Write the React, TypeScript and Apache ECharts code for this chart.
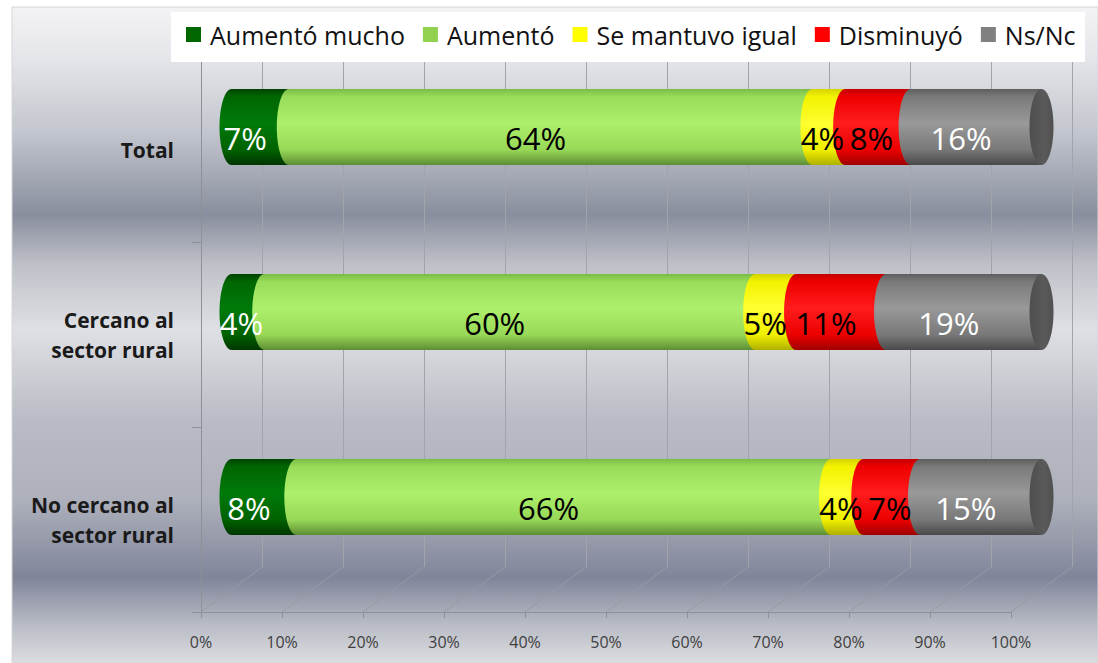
import React, { useEffect, useRef } from "react";
import * as echarts from "echarts";

const categories = ["Total", "Cercano al\nsector rural", "No cercano al\nsector rural"];
const seriesNames = ["Aumentó mucho", "Aumentó", "Se mantuvo igual", "Disminuyó", "Ns/Nc"];
const aumentoMucho = [7, 4, 8];
const aumento = [64, 60, 66];
const seMantuvoIgual = [4, 5, 4];
const disminuyo = [8, 11, 7];
const nsNc = [16, 19, 15];
const xTicks = [0, 10, 20, 30, 40, 50, 60, 70, 80, 90, 100];

const seriesValues = [aumentoMucho, aumento, seMantuvoIgual, disminuyo, nsNc];
const legendColors = ["#006600", "#92d050", "#ffff00", "#ff0000", "#808080"];
const labelColors = ["#ffffff", "#000000", "#000000", "#000000", "#ffffff"];
const bodyStops: [number, string][][] = [
  [[0, "#004400"], [0.1, "#006600"], [0.45, "#007a0a"], [0.8, "#006200"], [1, "#003600"]],
  [[0, "#7cbc46"], [0.1, "#98dc5a"], [0.45, "#adf06b"], [0.8, "#98d858"], [1, "#5e8e34"]],
  [[0, "#d4d400"], [0.1, "#f2f200"], [0.45, "#ffff30"], [0.8, "#f0f000"], [1, "#b0b000"]],
  [[0, "#c40000"], [0.1, "#ee0000"], [0.45, "#ff1c1c"], [0.8, "#ec0000"], [1, "#a00000"]],
  [[0, "#5e5e5e"], [0.1, "#7a7a7a"], [0.45, "#999999"], [0.8, "#787878"], [1, "#4a4a4a"]],
];

const FONT = '"Open Sans", "DejaVu Sans", sans-serif';
const LABEL_SIZE = 31;
const DEPTH_X = 61;
const DEPTH_Y = 45;

function grad(stops: [number, string][]) {
  return new echarts.graphic.LinearGradient(
    0, 0, 0, 1,
    stops.map(([offset, color]) => ({ offset, color }))
  );
}

function labelWidth(v: number) {
  return (String(v).length * 0.572 + 0.815) * LABEL_SIZE;
}

export default function App() {
  const ref = useRef<HTMLDivElement>(null);

  useEffect(() => {
    document.body.style.margin = "0";
    if (!ref.current) return;
    const chart = echarts.init(ref.current, null, { renderer: "svg" });

    // totals per category (100% stacked)
    const totals = categories.map((_, c) =>
      seriesValues.reduce((s, arr) => s + arr[c], 0)
    );
    const segData = seriesValues.map((arr, k) =>
      arr.map((v, c) => {
        let before = 0;
        for (let j = 0; j < k; j++) before += seriesValues[j][c];
        const start = (before / totals[c]) * 100;
        const end = ((before + v) / totals[c]) * 100;
        return [start, end, c, v];
      })
    );
    // labels ordered by category, then by series (left to right)
    const labelData: number[][] = [];
    categories.forEach((_, c) =>
      segData.forEach((arr, k) => {
        const d = arr[c];
        labelData.push([(d[0] + d[1]) / 2, c, d[3], k, d[0]]);
      })
    );
    let lastRight: Record<number, number> = {};

    const barSeries = seriesNames.map((name, k) => ({
      name,
      type: "custom",
      xAxisIndex: 1,
      yAxisIndex: 1,
      itemStyle: { color: legendColors[k] },
      encode: { x: [0, 1], y: 2 },
      data: segData[k],
      z: 3,
      renderItem: (params: any, api: any) => {
        const s = api.value(0);
        const e = api.value(1);
        const c = api.value(2);
        const p0 = api.coord([s, c]);
        const p1 = api.coord([e, c]);
        const band = api.size([0, 1])[1];
        const h = band * 0.41;
        const rx = 12;
        const y = p0[1] - h / 2;
        const children: any[] = [
          {
            type: "rect",
            shape: { x: p0[0], y, width: p1[0] - p0[0], height: h },
            style: { fill: grad(bodyStops[k]) },
          },
          {
            type: "ellipse",
            shape: { cx: p0[0], cy: p0[1], rx, ry: h / 2 },
            style: { fill: grad(bodyStops[k]) },
          },
        ];
        if (k === seriesNames.length - 1) {
          children.push({
            type: "ellipse",
            shape: { cx: p1[0], cy: p1[1], rx, ry: h / 2 },
            style: {
              fill: new echarts.graphic.LinearGradient(0, 0, 1, 0, [
                { offset: 0, color: "#4e4e4e" },
                { offset: 0.6, color: "#5a5a5a" },
                { offset: 1, color: "#505050" },
              ]),
            },
          });
        }
        return { type: "group", children };
      },
    }));

    const option: any = {
      animation: false,
      color: legendColors,
      graphic: [
        {
          type: "rect",
          z: -10,
          shape: { x: 12, y: 7, width: 1086, height: 656 },
          style: {
            fill: new echarts.graphic.LinearGradient(0, 0, 0, 1, [
              { offset: 0, color: "#f3f3f5" },
              { offset: 0.081, color: "#e4e5e9" },
              { offset: 0.19, color: "#c3c6ce" },
              { offset: 0.317, color: "#898e9e" },
              { offset: 0.393, color: "#bfc1c9" },
              { offset: 0.492, color: "#dfe0e4" },
              { offset: 0.63, color: "#b9bcc5" },
              { offset: 0.75, color: "#aeb1bb" },
              { offset: 0.87, color: "#80859a" },
              { offset: 0.942, color: "#b9bcc5" },
              { offset: 1, color: "#dcdde1" },
            ]),
            stroke: "#d6d6d6",
            lineWidth: 1,
          },
        },
        {
          type: "rect",
          z: 50,
          shape: { x: 171, y: 12, width: 914, height: 50 },
          style: { fill: "#ffffff" },
        },
      ],
      legend: {
        z: 60,
        left: 186,
        top: 22,
        padding: 0,
        itemWidth: 15,
        itemHeight: 15,
        itemGap: 18,
        icon: "rect",
        data: seriesNames,
        textStyle: {
          fontFamily: FONT,
          fontSize: 25,
          color: "#111111",
          padding: [0, 0, 0, 4],
        },
      },
      grid: [
        { left: 201, top: 57, width: 810, height: 555 },
        { left: 231.5, top: 34.5, width: 810, height: 555 },
        { left: 262, top: 12, width: 810, height: 555 },
      ],
      xAxis: [
        {
          gridIndex: 0,
          type: "value",
          min: 0,
          max: 100,
          interval: 10,
          axisLine: { show: true, lineStyle: { color: "#8e9098", width: 1 } },
          axisTick: { show: true, length: 6, lineStyle: { color: "#8e9098" } },
          splitLine: { show: false },
          axisLabel: {
            formatter: "{value}%",
            fontFamily: FONT,
            fontSize: 16,
            color: "#404040",
            margin: 22,
          },
        },
        {
          gridIndex: 1,
          type: "value",
          min: 0,
          max: 100,
          interval: 10,
          show: false,
        },
        {
          gridIndex: 2,
          type: "value",
          min: 0,
          max: 100,
          interval: 10,
          axisLine: { show: false },
          axisTick: { show: false },
          axisLabel: { show: false },
          splitLine: { show: true, lineStyle: { color: "#a2a4ab", width: 1 } },
        },
      ],
      yAxis: [
        {
          gridIndex: 0,
          type: "category",
          inverse: true,
          data: categories,
          axisLine: { show: true, lineStyle: { color: "#8e9098", width: 1 } },
          axisTick: { show: true, length: 9, lineStyle: { color: "#8e9098" } },
          axisLabel: {
            fontFamily: FONT,
            fontWeight: "bold",
            fontSize: 21,
            lineHeight: 30,
            color: "#1a1a1a",
            margin: 27,
            align: "right",
          },
        },
        {
          gridIndex: 1,
          type: "category",
          inverse: true,
          data: categories,
          show: false,
        },
        {
          gridIndex: 2,
          type: "category",
          inverse: true,
          data: categories,
          show: false,
        },
      ],
      series: [
        {
          type: "custom",
          name: "floor",
          xAxisIndex: 0,
          yAxisIndex: 0,
          encode: { x: 0, y: 1 },
          data: xTicks.map((v) => [v, 0]),
          z: 1,
          silent: true,
          renderItem: (params: any, api: any) => {
            const x = api.coord([api.value(0), 0])[0];
            const cs = params.coordSys;
            const yb = cs.y + cs.height;
            return {
              type: "line",
              shape: { x1: x, y1: yb, x2: x + DEPTH_X, y2: yb - DEPTH_Y },
              style: { stroke: "#989aa2", lineWidth: 1 },
            };
          },
        },
        ...barSeries,
        {
          type: "custom",
          name: "labels",
          xAxisIndex: 1,
          yAxisIndex: 1,
          encode: { x: 0, y: 1 },
          data: labelData,
          z: 10,
          silent: true,
          renderItem: (params: any, api: any) => {
            if (params.dataIndex === 0) lastRight = {};
            const c = api.value(1);
            const p = api.coord([api.value(0), c]);
            const ps = api.coord([api.value(4), c]);
            const v = api.value(2);
            const k = api.value(3);
            const w = labelWidth(v);
            let x = Math.max(p[0] - 15, ps[0] + 10);
            if (lastRight[c] !== undefined) x = Math.max(x, lastRight[c] + 6 + w / 2);
            lastRight[c] = x + w / 2;
            return {
              type: "text",
              x,
              y: p[1] + 11,
              style: {
                text: v + "%",
                fill: labelColors[k],
                fontFamily: FONT,
                fontSize: LABEL_SIZE,
                align: "center",
                verticalAlign: "middle",
              },
            };
          },
        },
      ],
    };

    chart.setOption(option);
    return () => chart.dispose();
  }, []);

  return <div ref={ref} style={{ width: 1098, height: 663 }} />;
}
